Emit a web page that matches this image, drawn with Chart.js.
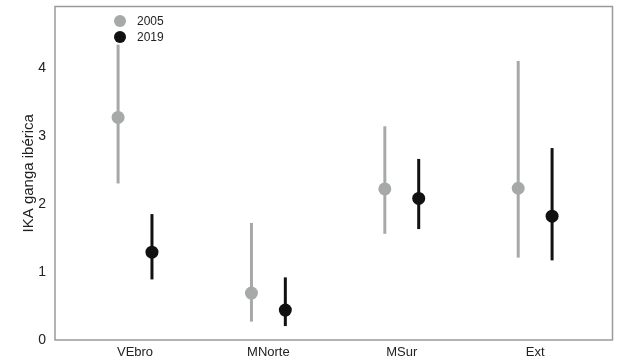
<!DOCTYPE html>
<html><head><meta charset="utf-8">
<script src="https://cdn.jsdelivr.net/npm/chart.js@4.4.1/dist/chart.umd.min.js"></script>
<style>html,body{margin:0;padding:0;background:#fff}#wrap{width:619px;height:363px}</style>
</head><body><div id="wrap"><canvas id="c" width="619" height="363"></canvas></div>
<script>
const categories = ["VEbro", "MNorte", "MSur", "Ext"];
const years = ["2005", "2019"];
const mean2005 = [3.27, 0.69, 2.22, 2.23];
const low2005  = [2.30, 0.27, 1.56, 1.21];
const high2005 = [4.34, 1.72, 3.14, 4.10];
const mean2019 = [1.29, 0.44, 2.08, 1.82];
const low2019  = [0.89, 0.205, 1.63, 1.17];
const high2019 = [1.85, 0.92, 2.66, 2.82];
const yTicks = [0, 1, 2, 3, 4];

const colors = ["#a7a9a9", "#111111"];
const offset = 0.127;
const FONT = "'Liberation Sans', Arial, sans-serif";

function pts(means, lows, highs, off) {
  return means.map((m, i) => ({x: i + 1 + off, y: m, lo: lows[i], hi: highs[i]}));
}

const errorBars = {
  id: 'errorBars',
  beforeDatasetsDraw(chart) {
    const ctx = chart.ctx, xs = chart.scales.x, ys = chart.scales.y;
    chart.data.datasets.forEach((ds) => {
      ctx.save();
      ctx.strokeStyle = ds.borderColor;
      ctx.lineWidth = 3;
      ds.data.forEach(p => {
        const x = xs.getPixelForValue(p.x);
        ctx.beginPath();
        ctx.moveTo(x, ys.getPixelForValue(p.lo));
        ctx.lineTo(x, ys.getPixelForValue(p.hi));
        ctx.stroke();
      });
      ctx.restore();
    });
  },
  afterDraw(chart) {
    const ctx = chart.ctx, a = chart.chartArea;
    ctx.save();
    ctx.strokeStyle = "#9a9a9a";
    ctx.lineWidth = 1.5;
    ctx.strokeRect(a.left, a.top, a.right - a.left, a.bottom - a.top);
    ctx.font = "12px " + FONT;
    ctx.textBaseline = "middle";
    chart.data.datasets.forEach((ds, i) => {
      const cx = 120, cy = 21 + i * 16;
      ctx.fillStyle = ds.backgroundColor;
      ctx.beginPath();
      ctx.arc(cx, cy, 6, 0, Math.PI * 2);
      ctx.fill();
      ctx.fillStyle = "#222";
      ctx.fillText(ds.label, 137, cy + 1);
    });
    ctx.restore();
  }
};

new Chart(document.getElementById('c'), {
  type: 'scatter',
  data: {
    datasets: [
      {label: years[0], data: pts(mean2005, low2005, high2005, -offset), backgroundColor: colors[0], borderColor: colors[0], pointRadius: 6.5, pointHoverRadius: 6.5, borderWidth: 0},
      {label: years[1], data: pts(mean2019, low2019, high2019, offset), backgroundColor: colors[1], borderColor: colors[1], pointRadius: 6.5, pointHoverRadius: 6.5, borderWidth: 0}
    ]
  },
  options: {
    responsive: false,
    animation: false,
    layout: {padding: {top: 5, right: 4, left: 0, bottom: 0}},
    plugins: {legend: {display: false}, tooltip: {enabled: false}},
    scales: {
      x: {
        type: 'linear', min: 0.4, max: 4.58,
        grid: {display: false, drawTicks: false}, border: {display: false},
        afterBuildTicks(s) { s.ticks = categories.map((c, i) => ({value: i + 1})); },
        ticks: {callback: (v) => categories[v - 1] || '', color: '#222', font: {size: 13, family: FONT}, padding: 5, maxRotation: 0},
        afterFit(s) { s.height = 23; s.paddingLeft = 0; s.paddingRight = 0; }
      },
      y: {
        min: 0, max: 4.9,
        grid: {display: false, drawTicks: false}, border: {display: false},
        afterBuildTicks(s) { s.ticks = yTicks.map(v => ({value: v})); },
        ticks: {color: '#222', font: {size: 14, family: FONT}, padding: 9},
        title: {display: true, text: 'IKA ganga ibérica', color: '#222', font: {size: 15, family: FONT}, padding: {top: 20, bottom: 0}},
        afterFit(s) { s.width = 55; s.paddingTop = 0; s.paddingBottom = 0; }
      }
    }
  },
  plugins: [errorBars]
});
</script></body></html>
